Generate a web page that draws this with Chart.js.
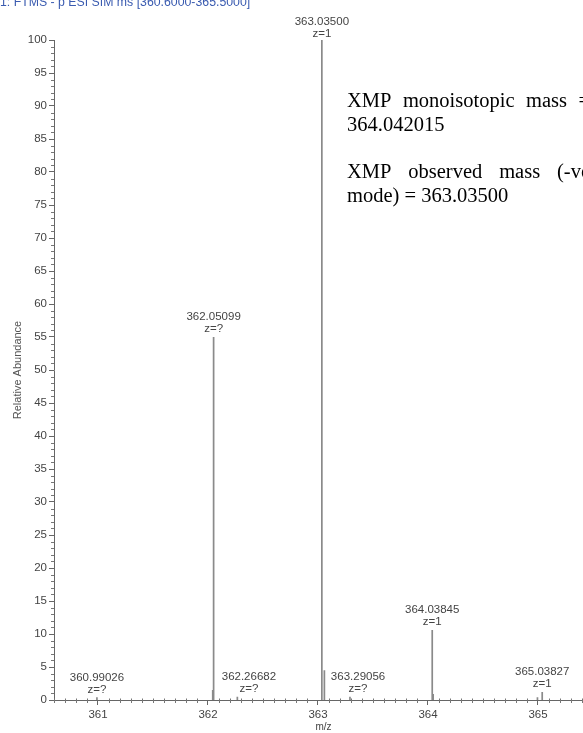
<!DOCTYPE html>
<html>
<head>
<meta charset="utf-8">
<script src="https://cdn.jsdelivr.net/npm/chart.js@4.4.0/dist/chart.umd.min.js"></script>
<style>
  html, body { margin: 0; padding: 0; background: #fff; overflow: hidden; width: 583px; height: 733px; }
  #wrap { position: relative; width: 598px; height: 733px; }
</style>
</head>
<body>
<div id="wrap"><canvas id="spectrum"></canvas></div>
<script>
// Scan header
const scanTitle = '1: FTMS - p ESI SIM ms [360.6000-365.5000]';

// Centroid sticks: m/z and relative abundance (%)
const peakMz        = [360.99026, 362.0430, 362.05099, 362.26682, 363.03500, 363.0580, 363.29056, 364.03845, 364.0470, 364.9950, 365.03827];
const peakAbundance = [0.4,       1.5,      55.0,      0.5,       100.0,     4.5,      0.5,       10.6,      0.9,      0.4,      1.2];

// Annotated peaks
const labelMz        = [360.99026, 362.05099, 362.26682, 363.03500, 363.29056, 364.03845, 365.03827];
const labelAbundance = [0.4,       55.0,      0.5,       100.0,     0.5,       10.6,      1.2];
const labelCharge    = ['z=?',     'z=?',     'z=?',     'z=1',     'z=?',     'z=1',     'z=1'];

// Axis ticks
const xTickValues = [361, 362, 363, 364, 365];
const xRange = [360.6, 365.5];
const yRange = [0, 100];

// Side note
const noteLines = [
  { text: 'XMP monoisotopic mass =', justify: true },
  { text: '364.042015', justify: false },
  { text: '', justify: false },
  { text: 'XMP observed mass (-ve', justify: true },
  { text: 'mode) = 363.03500', justify: false }
];

// Stick spectrum: each peak is a vertical segment from the baseline, broken by gaps
const stickData = [];
peakMz.forEach((mz, i) => {
  stickData.push({ x: mz, y: 0 });
  stickData.push({ x: mz, y: peakAbundance[i] });
  stickData.push({ x: mz, y: null });
});

const sans = '"Liberation Sans", Arial, sans-serif';
const serif = '"Liberation Serif", "Times New Roman", serif';

const decorations = {
  id: 'decorations',
  afterDraw(chart) {
    const { ctx, scales: { x, y } } = chart;
    ctx.save();

    // minor ticks
    ctx.strokeStyle = '#777';
    ctx.lineWidth = 1;
    ctx.beginPath();
    for (let v = yRange[0]; v <= yRange[1]; v += 1) {
      if (v % 5 === 0) continue;
      const py = Math.round(y.getPixelForValue(v)) + 0.5;
      ctx.moveTo(x.left - 3, py);
      ctx.lineTo(x.left, py);
    }
    for (let k = Math.ceil(xRange[0] * 10); k <= Math.floor(xRange[1] * 10); k++) {
      if (k % 10 === 0) continue;
      const px = Math.round(x.getPixelForValue(k / 10)) + 0.5;
      ctx.moveTo(px, y.bottom - 1.5);
      ctx.lineTo(px, y.bottom + 3);
    }
    ctx.stroke();

    // peak annotations; a label slides right of any taller stick it would cross
    ctx.font = '11.5px ' + sans;
    ctx.textAlign = 'center';
    ctx.textBaseline = 'middle';
    ctx.fillStyle = '#444';
    labelMz.forEach((mz, i) => {
      const px = x.getPixelForValue(mz);
      const py = y.getPixelForValue(labelAbundance[i]);
      const zY = Math.max(py - 8, 34);
      const mY = zY - 12;
      const t1 = mz.toFixed(5);
      const w = ctx.measureText(t1).width;
      let left = px - w / 2;
      peakMz.forEach((p, j) => {
        const sx = x.getPixelForValue(p);
        const top = y.getPixelForValue(peakAbundance[j]);
        if (p !== mz && top < zY + 6 && sx >= left - 2 && sx <= left + w + 2) {
          left = Math.max(left, sx + 9);
        }
      });
      const cx = left + w / 2;
      ctx.fillText(t1, cx, mY);
      ctx.fillText(labelCharge[i], cx, zY);
    });

    // scan header
    ctx.fillStyle = '#3a5bb0';
    ctx.font = '12.3px ' + sans;
    ctx.textAlign = 'left';
    ctx.textBaseline = 'top';
    ctx.fillText(scanTitle, 0, -4);

    // side note, justified column
    ctx.fillStyle = '#000';
    ctx.font = '20.5px ' + serif;
    ctx.textBaseline = 'middle';
    const colLeft = 347, colRight = 590;
    const lineY = [102, 126, 150, 173, 197];
    noteLines.forEach((ln, i) => {
      if (!ln.text) return;
      if (!ln.justify) { ctx.fillText(ln.text, colLeft, lineY[i]); return; }
      const words = ln.text.split(' ');
      const wordsW = words.reduce((s, w) => s + ctx.measureText(w).width, 0);
      const gap = (colRight - colLeft - wordsW) / (words.length - 1);
      let cx = colLeft;
      words.forEach(w => { ctx.fillText(w, cx, lineY[i]); cx += ctx.measureText(w).width + gap; });
    });

    ctx.restore();
  }
};

new Chart(document.getElementById('spectrum'), {
  type: 'line',
  data: {
    datasets: [{
      data: stickData,
      borderColor: '#8a8a8a',
      borderWidth: 1.7,
      pointRadius: 0,
      spanGaps: false,
      tension: 0
    }]
  },
  options: {
    responsive: true,
    maintainAspectRatio: false,
    animation: false,
    layout: { padding: { left: 0, right: 5, top: 40, bottom: 0 } },
    plugins: { legend: { display: false }, tooltip: { enabled: false } },
    scales: {
      x: {
        type: 'linear',
        min: xRange[0],
        max: xRange[1],
        afterBuildTicks: s => { s.ticks = xTickValues.map(v => ({ value: v })); },
        afterFit: s => { s.height = 33; },
        ticks: { color: '#444', font: { family: sans, size: 11.5 }, padding: 3, maxRotation: 0, autoSkip: false },
        grid: { drawOnChartArea: false, drawTicks: true, tickLength: 5, color: '#666' },
        border: { display: true, color: '#666', width: 1 },
        title: { display: true, text: 'm/z', color: '#444', font: { family: sans, size: 10 }, padding: { top: 0, bottom: 0 } }
      },
      y: {
        min: yRange[0],
        max: yRange[1],
        afterBuildTicks: s => {
          const t = [];
          for (let v = yRange[0]; v <= yRange[1]; v += 5) t.push({ value: v });
          s.ticks = t;
        },
        afterFit: s => { s.width = 54; },
        ticks: { color: '#444', font: { family: sans, size: 11.5 }, padding: 2 },
        grid: { drawOnChartArea: false, drawTicks: true, tickLength: 5, color: '#666' },
        border: { display: true, color: '#666', width: 1 },
        title: { display: true, text: 'Relative Abundance', color: '#555', font: { family: sans, size: 11 }, padding: { top: 11, bottom: 0 } }
      }
    }
  },
  plugins: [decorations]
});
</script>
</body>
</html>
